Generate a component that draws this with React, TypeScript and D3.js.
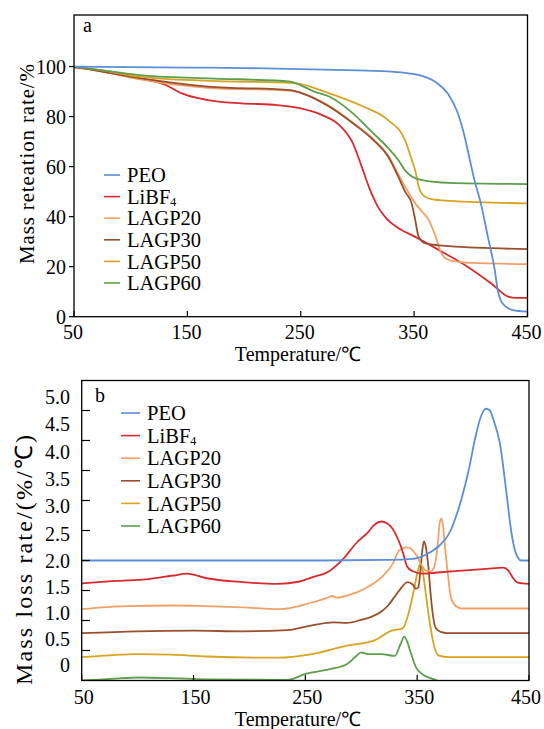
import React from "react";
import * as d3 from "d3";

type Pt = [number, number];

// series names + colours
const seriesNames = ["PEO", "LiBF4", "LAGP20", "LAGP30", "LAGP50", "LAGP60"];
const seriesColors = ["#5b8ed8", "#d92a2e", "#f2a066", "#9a4e2c", "#d9a322", "#5c9e4c"];

// panel a: mass retention rate (%) vs temperature
const peoA: Pt[] = [[50,100],[100,99.8],[150,99.6],[200,99.4],[250,99],[300,98.5],[330,98],[345,97.3],[360,95.8],[370,93.5],[380,89],[388,82],[394,73],[399,63],[403,55],[409,45],[415,32],[421,19],[424,10],[427,6],[431,4],[437,2.6],[450,2]];
const libf4A: Pt[] = [[50,99.6],[60,99.2],[76,98],[90,96.8],[107,95.3],[131,92.6],[144,89.5],[168,86.6],[198,85.3],[229,84.6],[250,83.3],[269,80.6],[284,76.6],[296,69.3],[303,61],[310,52],[318,44],[326,39],[336,35.5],[351,31.9],[372,26.6],[397,20],[418,13.3],[433,8],[440,7.5],[450,7.5]];
const lagp20A: Pt[] = [[50,100],[75,98],[107,95],[168,91.5],[241,90.3],[250,89.5],[275,84.3],[296,77.5],[314,71],[327,64.5],[336,57],[342,52],[351,45.3],[357,42],[363,38.6],[369,32],[374,25.3],[381,22.6],[400,21.5],[450,21]];
const lagp30A: Pt[] = [[50,100],[75,98],[107,95.5],[168,92],[241,90.6],[250,89.5],[275,84],[296,77.3],[314,70.6],[327,64],[336,56],[342,50],[348,45],[351,38.6],[354,32],[360,29.3],[381,28.2],[450,27]];
const lagp50A: Pt[] = [[50,100],[75,98.5],[107,96],[168,94.3],[241,93.5],[250,93],[275,89.3],[305,84],[327,78.6],[342,70.6],[348,62.6],[351,58.5],[354,52],[358,48.5],[365,47],[381,46.3],[450,45.3]];
const lagp60A: Pt[] = [[50,100],[75,98.5],[107,96.6],[168,95.3],[241,94],[250,92.5],[262,90],[275,88],[296,81.3],[314,73.3],[326,68],[336,62.6],[342,58.5],[348,56],[357,54.6],[381,53.5],[450,53]];

// panel b: mass loss rate (offset curves)
const peoB: Pt[] = [[50,2],[150,2],[250,2],[320,2.01],[340,2.02],[350,2.04],[360,2.12],[370,2.25],[380,2.5],[385,2.75],[390,3.05],[396,3.5],[402,4.05],[407,4.4],[411.5,4.53],[415,4.5],[419,4.3],[424,3.95],[430,3.1],[434,2.5],[437,2.2],[440,2.05],[443,2.0],[450,2.0]];
const libf4B: Pt[] = [[50,1.62],[80,1.66],[110,1.69],[132,1.75],[144,1.78],[163,1.7],[194,1.64],[225,1.61],[245,1.65],[256,1.72],[272,1.83],[284,2.03],[296,2.3],[306,2.47],[312,2.6],[318,2.65],[323,2.62],[328,2.53],[333,2.35],[337,2.15],[341,1.9],[346,1.82],[355,1.78],[368,1.8],[390,1.83],[412,1.86],[427,1.88],[432,1.82],[436,1.7],[440,1.63],[450,1.61]];
const lagp20B: Pt[] = [[50,1.19],[90,1.24],[132,1.25],[160,1.24],[194,1.22],[228,1.19],[256,1.3],[270,1.38],[274,1.41],[278,1.38],[290,1.43],[303,1.53],[318,1.72],[328,1.94],[334,2.17],[340,2.22],[344,2.2],[349,2.1],[354,1.92],[358,1.83],[362,1.82],[365,1.88],[368,2.2],[370,2.6],[371.5,2.7],[373,2.6],[375,2.2],[377,1.85],[380,1.4],[384,1.25],[390,1.2],[450,1.2]];
const lagp30B: Pt[] = [[50,0.79],[100,0.82],[150,0.83],[194,0.82],[234,0.84],[256,0.92],[275,0.97],[287,0.96],[300,1.01],[309,1.06],[318,1.15],[324,1.25],[330,1.4],[334,1.5],[341.5,1.64],[346,1.6],[349,1.53],[351,1.55],[353,1.85],[354.5,2.15],[356,2.32],[357.5,2.25],[360,1.9],[362,1.45],[364,1.1],[366.5,0.88],[371,0.81],[377,0.79],[450,0.79]];
const lagp50B: Pt[] = [[50,0.39],[75,0.42],[100,0.44],[130,0.43],[162,0.4],[225,0.38],[256,0.44],[287,0.58],[312,0.67],[327,0.83],[337,0.87],[343,1.17],[347,1.5],[350,1.78],[353,1.95],[355.5,1.75],[358.5,1.33],[361,1.0],[363.5,0.72],[366,0.52],[369,0.42],[378,0.39],[450,0.39]];
const lagp60B: Pt[] = [[50,0.0],[80,0.03],[100,0.05],[130,0.04],[162,0.02],[234,0.01],[250,0.11],[272,0.19],[287,0.27],[295,0.4],[300,0.47],[306,0.44],[318,0.44],[330,0.41],[335,0.6],[338.5,0.73],[341,0.65],[344,0.48],[349,0.22],[355,0.1],[362,0.04],[368,0.0]];

const xTicks = [50, 150, 250, 350, 450];
const yTicksA = [0, 20, 40, 60, 80, 100];
const yTicksB = [0.5, 1.0, 1.5, 2.0, 2.5, 3.0, 3.5, 4.0, 4.5];
const yLabelsB = ["0", "0.5", "1.0", "1.5", "2.0", "2.5", "3.0", "3.5", "4.0", "4.5", "5.0"];

const font = "'Liberation Serif', 'Times New Roman', serif";

const Legend = ({ x, y, step, len }: { x: number; y: number; step: number; len: number }) => (
  <g>
    {seriesNames.map((n, i) => (
      <g key={n} transform={`translate(${x},${y + i * step})`}>
        <line x1={0} x2={len} y1={0} y2={0} stroke={seriesColors[i]} strokeWidth={1.6} />
        <text x={len + 7} y={0} dy="0.35em" fontSize={20.5} fontFamily={font}>
          {n === "LiBF4" ? (
            <>LiBF<tspan fontSize={12} dy={2}>4</tspan></>
          ) : n}
        </text>
      </g>
    ))}
  </g>
);

export default function App() {
  // panel a scales
  const xA = d3.scaleLinear().domain([50, 450]).range([74, 527.5]);
  const yA = d3.scaleLinear().domain([0, 120.6]).range([316.7, 15]);
  // panel b scales
  const xB = d3.scaleLinear().domain([50, 450]).range([81.7, 529]);
  const yB = d3.scaleLinear().domain([0, 5]).range([680.5, 380.5]);
  // tick labels of b sit on their own (compressed) spacing
  const yLabB = d3.scaleLinear().domain([0, 2, 5]).range([665, 561, 397]);

  const lineA = d3.line<Pt>().x((d) => xA(d[0])).y((d) => yA(d[1])).curve(d3.curveMonotoneX);
  const lineB = d3.line<Pt>().x((d) => xB(d[0])).y((d) => yB(d[1])).curve(d3.curveMonotoneX);

  const dataA = [peoA, libf4A, lagp20A, lagp30A, lagp50A, lagp60A];
  const dataB = [peoB, libf4B, lagp20B, lagp30B, lagp50B, lagp60B];
  const orderA = [1, 2, 3, 4, 5, 0];
  const orderB = [5, 4, 3, 2, 1, 0];

  return (
    <svg width={544} height={729} style={{ position: "absolute", left: 0, top: 0, background: "#fff" }} fontFamily={font}>
      <defs>
        <clipPath id="clipA"><rect x={74} y={15} width={453.5} height={301.7} /></clipPath>
        <clipPath id="clipB"><rect x={81.7} y={380.5} width={447.3} height={300} /></clipPath>
      </defs>

      {/* ---------- panel a ---------- */}
      <g clipPath="url(#clipA)">
        {orderA.map((i) => (
          <path key={i} d={lineA(dataA[i]) || ""} fill="none" stroke={seriesColors[i]} strokeWidth={1.8} />
        ))}
      </g>
      <rect x={74} y={15} width={453.5} height={301.7} fill="none" stroke="#000" strokeWidth={1.3} />
      {yTicksA.map((t) => (
        <g key={t}>
          <line x1={69} x2={74} y1={yA(t)} y2={yA(t)} stroke="#000" strokeWidth={1.2} />
          <text x={66} y={yA(t)} dy="0.35em" textAnchor="end" fontSize={20}>{t}</text>
        </g>
      ))}
      {xTicks.map((t) => (
        <g key={t}>
          <line x1={xA(t)} x2={xA(t)} y1={316.7} y2={311} stroke="#000" strokeWidth={1.2} />
          <text x={xA(t) - 1} y={339} textAnchor="middle" fontSize={20}>{t}</text>
        </g>
      ))}
      <text x={83} y={32} fontSize={20}>a</text>
      <text x={298} y={361} textAnchor="middle" fontSize={20}>Temperature/℃</text>
      <text transform="translate(34,164) rotate(-90)" textAnchor="middle" fontSize={21}
        textLength={200} lengthAdjust="spacing">Mass reteation rate/%</text>
      <Legend x={104} y={175} step={21.6} len={16} />

      {/* ---------- panel b ---------- */}
      <g clipPath="url(#clipB)">
        {orderB.map((i) => (
          <path key={i} d={lineB(dataB[i]) || ""} fill="none" stroke={seriesColors[i]} strokeWidth={1.8} />
        ))}
      </g>
      <rect x={81.7} y={380.5} width={447.3} height={300} fill="none" stroke="#000" strokeWidth={1.3} />
      {yTicksB.map((t) => (
        <line key={t} x1={81.7} x2={90} y1={yB(t)} y2={yB(t)} stroke="#000" strokeWidth={1.2} />
      ))}
      {yLabelsB.map((l, i) => (
        <text key={l} x={70} y={yLabB(i * 0.5)} dy="0.35em" textAnchor="end" fontSize={20}>{l}</text>
      ))}
      {xTicks.map((t) => (
        <g key={t}>
          <line x1={xB(t)} x2={xB(t)} y1={680.5} y2={675} stroke="#000" strokeWidth={1.2} />
          <text x={Math.min(xB(t) + 2, 526)} y={704} textAnchor="middle" fontSize={20}>{t}</text>
        </g>
      ))}
      <text x={95} y={402} fontSize={20}>b</text>
      <text x={298} y={726} textAnchor="middle" fontSize={20}>Temperature/℃</text>
      <text transform="translate(32,560) rotate(-90)" textAnchor="middle" fontSize={24}
        textLength={250} lengthAdjust="spacing">Mass loss rate/(%/℃)</text>
      <Legend x={121} y={413} step={22.6} len={19} />
    </svg>
  );
}
